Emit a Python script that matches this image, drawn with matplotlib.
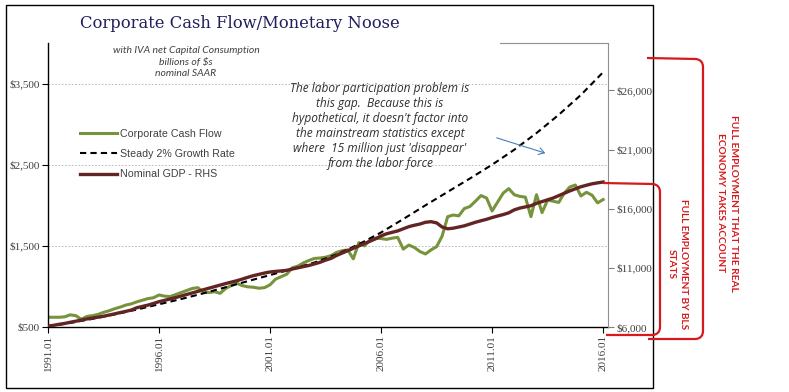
import numpy as np
import matplotlib.pyplot as plt
from matplotlib.path import Path
from matplotlib.patches import PathPatch, Rectangle, FancyArrowPatch
from matplotlib.lines import Line2D

W, H = 789, 392

# quarterly categories 1991Q1 .. 2016Q1
quarters = 1991 + np.arange(101) / 4

cash_flow = [
    620, 620, 620, 625,
    650, 640, 595, 630,
    640, 655, 680, 700,
    725, 745, 770, 785,
    810, 830, 850, 860,
    895, 880, 875, 900,
    925, 950, 975, 985,
    930, 925, 935, 915,
    975, 1010, 1040, 1010,
    995, 990, 978, 985,
    1020, 1090, 1120, 1150,
    1230, 1250, 1290, 1320,
    1345, 1350, 1360, 1380,
    1420, 1440, 1450, 1340,
    1540, 1500, 1570, 1595,
    1590, 1580, 1595, 1605,
    1460, 1510, 1480, 1430,
    1400, 1450, 1490, 1620,
    1860, 1880, 1870, 1960,
    1985, 2050, 2120, 2090,
    1930, 2040, 2150, 2205,
    2130, 2110, 2100, 1860,
    2130, 1910, 2065, 2050,
    2035, 2150, 2225, 2250,
    2115, 2160, 2125, 2030,
    2070,
]

gdp = [
    6080, 6140, 6230, 6300,
    6400, 6490, 6580, 6680,
    6760, 6830, 6910, 7010,
    7110, 7220, 7320, 7430,
    7630, 7740, 7850, 7990,
    8140, 8250, 8370, 8490,
    8620, 8750, 8880, 9010,
    9150, 9280, 9410, 9540,
    9670, 9790, 9910, 10050,
    10200, 10340, 10450, 10560,
    10650, 10700, 10740, 10790,
    10900, 11000, 11100, 11200,
    11330, 11470, 11650, 11800,
    12050, 12250, 12450, 12650,
    12850, 13050, 13250, 13450,
    13700, 13880, 14000, 14120,
    14300, 14480, 14600, 14700,
    14850, 14900, 14800, 14450,
    14300, 14350, 14450, 14550,
    14700, 14850, 14980, 15100,
    15250, 15380, 15500, 15650,
    15900, 16050, 16150, 16250,
    16450, 16600, 16750, 16900,
    17100, 17300, 17500, 17680,
    17850, 17980, 18100, 18180,
    18250,
]

growth_years = list(range(1991, 2017))
growth = [505, 550, 600, 655, 715, 780, 845, 915, 990, 1065, 1140, 1215, 1295,
          1395, 1520, 1665, 1830, 2000, 2165, 2330, 2500, 2685, 2890, 3115,
          3360, 3640]

x_ticks = [1991, 1996, 2001, 2006, 2011, 2016]
x_labels = ['1991.01', '1996.01', '2001.01', '2006.01', '2011.01', '2016.01']
left_ticks = [500, 1500, 2500, 3500]
right_ticks = [6000, 11000, 16000, 21000, 26000]


def fx(x):
    return x / W


def fy(y):
    return 1 - y / H


fig = plt.figure(figsize=(W / 100, H / 100), dpi=100)
ax = fig.add_axes([fx(48), fy(327), 560 / W, 284 / H])
ax2 = ax.twinx()

l1, = ax.plot(quarters, cash_flow, color='#77933C', lw=2.2, label='Corporate Cash Flow')
l2, = ax.plot(growth_years, growth, color='black', lw=1.5, ls=(0, (3, 2)),
              label='Steady 2% Growth Rate')
l3, = ax2.plot(quarters, gdp, color='#632523', lw=2.4, label='Nominal GDP - RHS')

ax.set_xlim(1991, 2016.22)
ax.set_ylim(500, 4000)
ax2.set_ylim(6000, 30000)

serif = 'Liberation Serif'
ax.set_xticks(x_ticks)
ax.set_xticklabels(x_labels, rotation=90, family=serif, fontsize=8, color='#404040')
ax.set_yticks(left_ticks)
ax.set_yticklabels(['${:,}'.format(v) for v in left_ticks], family=serif,
                   fontsize=8, color='#404040')
ax2.set_yticks(right_ticks)
ax2.set_yticklabels(['${:,}'.format(v) for v in right_ticks], family=serif,
                    fontsize=8, color='#404040')

ax.yaxis.grid(True, ls=(0, (2, 2)), color='#B0B0B0', lw=0.6)
ax.set_axisbelow(True)
ax.tick_params(direction='out', length=4, width=0.8, color='black', pad=2)
ax2.tick_params(direction='out', length=4, width=0.8, color='#808080', pad=2)

for s in ['left', 'bottom']:
    ax.spines[s].set_color('black')
    ax.spines[s].set_linewidth(1)
ax.spines['top'].set_visible(False)
ax.spines['right'].set_visible(False)
for s in ['left', 'top', 'bottom']:
    ax2.spines[s].set_visible(False)
ax2.spines['right'].set_color('#909090')
ax2.spines['right'].set_linewidth(0.8)
# plot-area border is only visible at the top right, the rest is hidden by the title box
fig.lines.append(Line2D([fx(500), fx(608)], [fy(43), fy(43)], transform=fig.transFigure,
                        color='#909090', lw=0.8))

ax.legend(handles=[l1, l2, l3], loc='upper left', bbox_to_anchor=(0.057, 0.697),
          frameon=False, borderaxespad=0, borderpad=0, handlelength=3.5,
          handletextpad=0.25, labelspacing=0.95,
          prop={'family': 'Liberation Sans', 'size': 7.7}, labelcolor='#404040')

# title and notes
fig.text(fx(240), fy(23), 'Corporate Cash Flow/Monetary Noose', family='DejaVu Serif',
         fontsize=11.8, color='#1F1F5C', ha='center', va='center')
fig.text(fx(186), fy(62), 'with IVA net Capital Consumption\nbillions of $s\nnominal SAAR',
         family='Lato', style='italic', fontsize=7.5, color='#404040',
         ha='center', va='center', linespacing=1.33)
fig.text(fx(380), fy(126),
         "The labor participation problem is\nthis gap.  Because this is\n"
         "hypothetical, it doesn't factor into\nthe mainstream statistics except\n"
         "where  15 million just 'disappear'\nfrom the labor force",
         family='Open Sans', style='italic', fontsize=8.6, color='#303030',
         ha='center', va='center', linespacing=1.2)

fig.patches.append(FancyArrowPatch((fx(494), fy(137)), (fx(548), fy(154)),
                                   transform=fig.transFigure,
                                   arrowstyle='->,head_length=4,head_width=2.5',
                                   color='#4A7EBB', lw=0.8))

# outer frame
fig.patches.append(Rectangle((fx(6), fy(388)), (653 - 6) / W, (388 - 5) / H,
                             transform=fig.transFigure, fill=False, ec='black', lw=1))

# red brackets
red = '#D7191C'


def bracket(x0, y0, xc, y1, x1):
    r = 7
    verts = [(x0, y0), (xc - r, y0 + 1), (xc, y0 + 2), (xc, y0 + r + 2),
             (xc, y1 - r), (xc, y1), (xc - r, y1 + 1), (x1, y1 + 1)]
    codes = [Path.MOVETO, Path.LINETO, Path.CURVE3, Path.CURVE3,
             Path.LINETO, Path.CURVE3, Path.CURVE3, Path.LINETO]
    verts = [(fx(a), fy(b)) for a, b in verts]
    fig.patches.append(PathPatch(Path(verts, codes), transform=fig.transFigure,
                                 fill=False, ec=red, lw=1.6))


bracket(603, 183, 660, 334, 606)
bracket(647, 58, 703, 338, 648)

fig.text(fx(677), fy(264), 'FULL EMPLOYMENT BY BLS\nSTATS', rotation=270,
         family='Lato', weight='bold', fontsize=7.2, color=red,
         ha='center', va='center', multialignment='center', linespacing=1.45)
fig.text(fx(727), fy(203), 'FULL EMPLOYMENT THAT THE REAL\nECONOMY TAKES ACCOUNT',
         rotation=270, family='Lato', weight='bold', fontsize=7.3, color=red,
         ha='center', va='center', multialignment='center', linespacing=1.45)

fig.savefig('out.png', dpi=100)
